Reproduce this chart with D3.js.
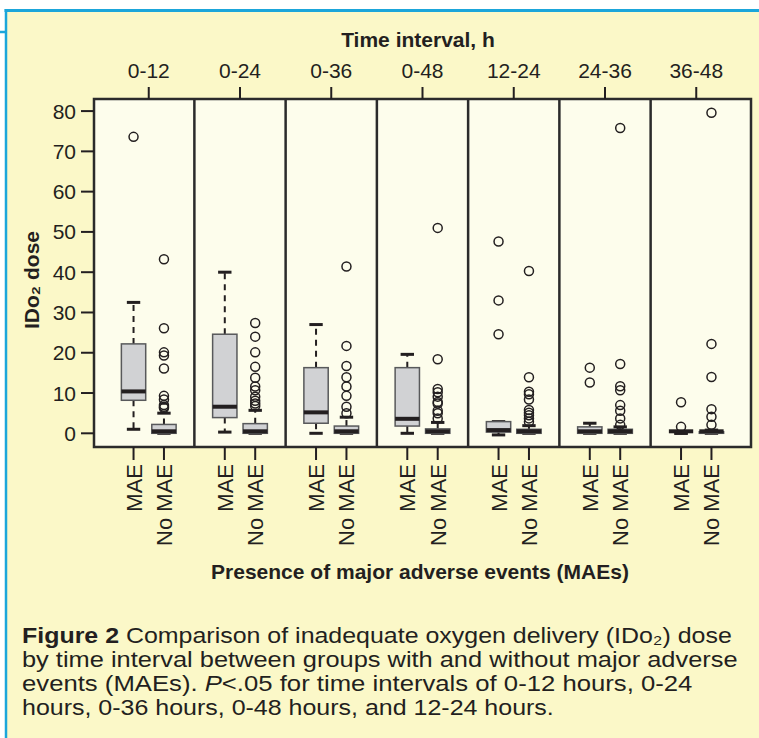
<!DOCTYPE html>
<html>
<head>
<meta charset="utf-8">
<script src="https://cdn.jsdelivr.net/npm/d3@7"></script>
<style>
    body { margin: 0; background: #ffffff; }
    text { font-family: "Liberation Sans", Arial, Helvetica, sans-serif; fill: #231f20; }
    .bold { font-weight: bold; }
</style>
</head>
<body>
<svg id="chart" width="759" height="738"></svg>
<script>
//////////////////// DATA ////////////////////
// time intervals (top axis) and groups (bottom axis)
const intervals = ["0-12", "0-24", "0-36", "0-48", "12-24", "24-36", "36-48"];
const groups = ["MAE", "No MAE"];

// box summaries per interval: [lower whisker, q1, median, q3, upper whisker]
const maeStats = [
    [1.0, 8.2, 10.4, 22.2, 32.5],
    [0.3, 3.9, 6.6, 24.6, 40.0],
    [0.0, 2.5, 5.2, 16.3, 27.0],
    [0.0, 1.8, 3.6, 16.3, 19.6],
    [-0.4, 0.3, 0.8, 2.9, 2.9],
    [0.0, 0.0, 0.2, 1.6, 2.5],
    [0.0, 0.0, 0.0, 0.0, 0.0]
];
const noMaeStats = [
    [0.0, 0.0, 0.4, 2.2, 5.0],
    [0.0, 0.0, 0.4, 2.4, 5.7],
    [0.0, 0.0, 0.5, 1.8, 4.0],
    [0.0, 0.0, 0.4, 1.1, 2.7],
    [0.0, 0.0, 0.4, 1.0, 1.9],
    [0.0, 0.0, 0.4, 1.0, 1.6],
    [0.0, 0.0, 0.3, 0.4, 0.8]
];

// outliers per interval
const maeOutliers = [
    [73.6],
    [],
    [],
    [],
    [47.6, 33.0, 24.6],
    [16.3, 12.6],
    [7.7, 1.6]
];
const noMaeOutliers = [
    [43.2, 26.1, 20.1, 19.3, 16.1, 9.3, 8.4, 7.0, 6.6, 6.3],
    [27.4, 24.0, 20.1, 16.5, 13.8, 11.6, 10.7, 9.1, 8.1, 7.4, 6.8],
    [41.4, 21.7, 16.7, 13.9, 11.6, 9.3, 6.6, 5.0],
    [51.0, 18.4, 11.0, 10.2, 9.1, 7.8, 7.4, 5.6, 5.0, 3.7],
    [40.3, 13.9, 10.3, 9.7, 8.4, 5.8, 5.1, 4.5, 3.7, 2.9],
    [75.8, 17.2, 11.7, 10.7, 7.0, 5.6, 3.7, 2.1],
    [79.6, 22.2, 14.0, 6.0, 4.1, 2.1]
];

// y ticks
const yTicks = [0, 10, 20, 30, 40, 50, 60, 70, 80];

// caption lines
const captionLines = [
    [{t: "Figure 2", b: true}, {t: "  Comparison of inadequate oxygen delivery (IDo\u2082) dose"}],
    [{t: "by time interval between groups with and without major adverse"}],
    [{t: "events (MAEs). "}, {t: "P", i: true}, {t: "<.05 for time intervals of 0-12 hours, 0-24"}],
    [{t: "hours, 0-36 hours, 0-48 hours, and 12-24 hours."}]
];


//////////////////// HANDLE SIZES ////////////////////
const svg = d3.select("#chart");

const plot = { left: 94, right: 751, top: 99, bottom: 447 };

// box positions: MAE at 3i+1, No MAE at 3i+2
const boxPos = (i, g) => 3 * i + 1 + g;

const x = d3.scaleLinear()
    .domain([-0.3, 21.3])
    .range([plot.left, plot.right]);

const y = d3.scaleLinear()
    .domain([-3.4, 83])
    .range([plot.bottom, plot.top]);

const unit = x(1) - x(0);
const boxWidth = 0.8 * unit;
const capWidth = 0.44 * unit;


//////////////////// BACKGROUND ////////////////////
svg.append("rect")
    .attr("x", 6).attr("y", 10)
    .attr("width", 753).attr("height", 728)
    .attr("fill", "#fbf8c8");

// blue frame lines
svg.append("line")
    .attr("x1", 4.5).attr("x2", 759).attr("y1", 10.5).attr("y2", 10.5)
    .attr("stroke", "#1ba6da").attr("stroke-width", 3);
svg.append("line")
    .attr("x1", 6).attr("x2", 6).attr("y1", 9).attr("y2", 738)
    .attr("stroke", "#1ba6da").attr("stroke-width", 2.5);
svg.append("line")
    .attr("x1", 0).attr("x2", 6).attr("y1", 32).attr("y2", 32)
    .attr("stroke", "#1ba6da").attr("stroke-width", 2.5);

// panel interior
svg.append("rect")
    .attr("x", plot.left).attr("y", plot.top)
    .attr("width", plot.right - plot.left).attr("height", plot.bottom - plot.top)
    .attr("fill", "#fdfdec");


//////////////////// BOXES ////////////////////
const boxes = [];
intervals.forEach((iv, i) => {
    boxes.push({ i: i, g: 0, s: maeStats[i], out: maeOutliers[i] });
    boxes.push({ i: i, g: 1, s: noMaeStats[i], out: noMaeOutliers[i] });
});

const boxG = svg.selectAll(".box")
    .data(boxes)
    .enter()
    .append("g")
    .attr("class", "box");

// dashed whiskers
boxG.append("line")
    .attr("x1", d => x(boxPos(d.i, d.g))).attr("x2", d => x(boxPos(d.i, d.g)))
    .attr("y1", d => y(d.s[3])).attr("y2", d => y(d.s[4]))
    .attr("stroke", "#231f20").attr("stroke-width", 2).attr("stroke-dasharray", "6,5");
boxG.append("line")
    .attr("x1", d => x(boxPos(d.i, d.g))).attr("x2", d => x(boxPos(d.i, d.g)))
    .attr("y1", d => y(d.s[1])).attr("y2", d => y(d.s[0]))
    .attr("stroke", "#231f20").attr("stroke-width", 2).attr("stroke-dasharray", "6,5");

// whisker caps
[0, 4].forEach(k => {
    boxG.append("line")
        .attr("x1", d => x(boxPos(d.i, d.g)) - capWidth / 2)
        .attr("x2", d => x(boxPos(d.i, d.g)) + capWidth / 2)
        .attr("y1", d => y(d.s[k])).attr("y2", d => y(d.s[k]))
        .attr("stroke", "#231f20").attr("stroke-width", 3);
});

// box body
boxG.append("rect")
    .attr("x", d => x(boxPos(d.i, d.g)) - boxWidth / 2)
    .attr("width", boxWidth)
    .attr("y", d => y(d.s[3]))
    .attr("height", d => Math.max(0, y(d.s[1]) - y(d.s[3])))
    .attr("fill", "#d1d2d4")
    .attr("stroke", "#58595b").attr("stroke-width", 1.5);

// median
boxG.append("line")
    .attr("x1", d => x(boxPos(d.i, d.g)) - boxWidth / 2)
    .attr("x2", d => x(boxPos(d.i, d.g)) + boxWidth / 2)
    .attr("y1", d => Math.min(y(d.s[2]), y(d.s[1]) - 2))
    .attr("y2", d => Math.min(y(d.s[2]), y(d.s[1]) - 2))
    .attr("stroke", "#231f20").attr("stroke-width", 4);

// outliers
boxG.selectAll(".outlier")
    .data(d => d.out.map(v => ({ v: v, pos: boxPos(d.i, d.g) })))
    .enter()
    .append("circle")
    .attr("class", "outlier")
    .attr("cx", d => x(d.pos))
    .attr("cy", d => y(d.v))
    .attr("r", 4.5)
    .attr("fill", "none")
    .attr("stroke", "#231f20")
    .attr("stroke-width", 1.5);


//////////////////// FRAME AND DIVIDERS ////////////////////
svg.selectAll(".divider")
    .data(d3.range(1, intervals.length))
    .enter()
    .append("line")
    .attr("class", "divider")
    .attr("x1", d => x(3 * d)).attr("x2", d => x(3 * d))
    .attr("y1", plot.top).attr("y2", plot.bottom)
    .attr("stroke", "#2b2b2b").attr("stroke-width", 2.5);

svg.append("rect")
    .attr("x", plot.left).attr("y", plot.top)
    .attr("width", plot.right - plot.left).attr("height", plot.bottom - plot.top)
    .attr("fill", "none")
    .attr("stroke", "#2b2b2b").attr("stroke-width", 2.5);


//////////////////// AXES ////////////////////
// y-axis
svg.selectAll(".ytick")
    .data(yTicks)
    .enter()
    .append("line")
    .attr("x1", plot.left - 13).attr("x2", plot.left)
    .attr("y1", d => y(d)).attr("y2", d => y(d))
    .attr("stroke", "#231f20").attr("stroke-width", 2);

svg.selectAll(".ylabel")
    .data(yTicks)
    .enter()
    .append("text")
    .attr("x", plot.left - 18)
    .attr("y", d => y(d))
    .attr("dy", "0.36em")
    .attr("text-anchor", "end")
    .style("font-size", "21px")
    .text(d => d);

// top axis: intervals
svg.selectAll(".toptick")
    .data(intervals)
    .enter()
    .append("line")
    .attr("x1", (d, i) => x(3 * i + 1.5)).attr("x2", (d, i) => x(3 * i + 1.5))
    .attr("y1", plot.top - 12).attr("y2", plot.top)
    .attr("stroke", "#231f20").attr("stroke-width", 2);

svg.selectAll(".toplabel")
    .data(intervals)
    .enter()
    .append("text")
    .attr("x", (d, i) => x(3 * i + 1.5))
    .attr("y", 78)
    .attr("text-anchor", "middle")
    .style("font-size", "21px")
    .text(d => d);

// bottom axis: groups
const bottomTicks = [];
intervals.forEach((iv, i) => groups.forEach((g, k) => bottomTicks.push({ pos: boxPos(i, k), label: g })));

svg.selectAll(".bottomtick")
    .data(bottomTicks)
    .enter()
    .append("line")
    .attr("x1", d => x(d.pos)).attr("x2", d => x(d.pos))
    .attr("y1", plot.bottom).attr("y2", plot.bottom + 13)
    .attr("stroke", "#231f20").attr("stroke-width", 2);

svg.selectAll(".bottomlabel")
    .data(bottomTicks)
    .enter()
    .append("text")
    .attr("transform", d => `translate(${x(d.pos) + 8}, ${plot.bottom + 17}) rotate(-90)`)
    .attr("text-anchor", "end")
    .style("font-size", "22px")
    .text(d => d.label);


//////////////////// AXIS TEXT ////////////////////
svg.append("text")
    .attr("class", "bold")
    .attr("x", 418).attr("y", 47)
    .attr("text-anchor", "middle")
    .style("font-size", "21px")
    .text("Time interval, h");

svg.append("text")
    .attr("class", "bold")
    .attr("x", 420).attr("y", 579)
    .attr("text-anchor", "middle")
    .style("font-size", "21px")
    .text("Presence of major adverse events (MAEs)");

svg.append("text")
    .attr("class", "bold")
    .attr("transform", `translate(39, ${(plot.top + plot.bottom) / 2 + 7}) rotate(-90)`)
    .attr("text-anchor", "middle")
    .style("font-size", "21px")
    .text("IDo\u2082 dose");


//////////////////// CAPTION ////////////////////
const captionWidths = [710, 716, 671, 532];
const captionBase = [643, 667, 691, 715];

captionLines.forEach((parts, li) => {
    const t = svg.append("text")
        .attr("x", 0).attr("y", 0)
        .style("font-size", "22px");
    parts.forEach(p => {
        const s = t.append("tspan").text(p.t);
        if (p.b) s.style("font-weight", "bold");
        if (p.i) s.style("font-style", "italic");
    });
    const w = t.node().getComputedTextLength();
    t.attr("transform", `translate(22, ${captionBase[li]}) scale(${captionWidths[li] / w}, 1)`);
});
</script>
</body>
</html>
